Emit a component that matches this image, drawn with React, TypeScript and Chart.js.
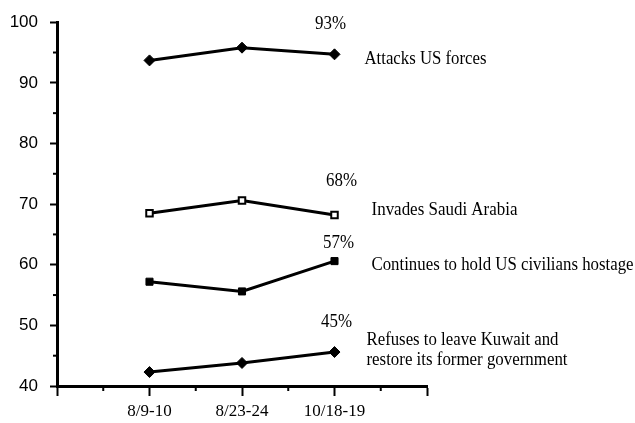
import React, { useEffect, useRef } from 'react';
import { Chart, registerables } from 'chart.js';

Chart.register(...registerables);

// ---- data ----
const categories = ['', '8/9-10', '8/23-24', '10/18-19', ''];
const attacksUSForces = [93.7, 95.8, 94.7];
const invadesSaudiArabia = [68.5, 70.6, 68.2];
const holdsUSHostages = [57.2, 55.6, 60.6];
const refusesLeaveKuwait = [42.3, 43.8, 45.6];
const seriesNames = [
  ['Attacks US forces'],
  ['Invades Saudi Arabia'],
  ['Continues to hold US civilians hostage'],
  ['Refuses to leave Kuwait and', 'restore its former government'],
];
const endLabels = ['93%', '68%', '57%', '45%'];
const yMin = 40;
const yMax = 100;

// ---- layout-only settings (offsets from the last point, in px) ----
const pctOffsets = [
  { dx: -4, dy: -25 },
  { dx: 7, dy: -29 },
  { dx: 4, dy: -13 },
  { dx: 2, dy: -25 },
];
const nameOffsets = [
  { dx: 30, dy: 10 },
  { dx: 37, dy: 0 },
  { dx: 37, dy: 9 },
  { dx: 32, dy: -7 },
];
const nameMaxWidths = [[122], [146], [262], [192, 201]];

const allSeries = [attacksUSForces, invadesSaudiArabia, holdsUSHostages, refusesLeaveKuwait];

const toPoints = (vals: number[]) => vals.map((v, i) => ({ x: i + 1, y: v }));

const annotationPlugin = {
  id: 'annotations',
  afterDatasetsDraw(chart: any) {
    const { ctx } = chart;
    const xS = chart.scales.x;
    const yS = chart.scales.y;
    ctx.save();
    // minor ticks
    ctx.strokeStyle = '#000';
    ctx.lineWidth = 2;
    for (let v = yMin + 5; v < yMax; v += 10) {
      const py = yS.getPixelForValue(v);
      ctx.beginPath();
      ctx.moveTo(chart.chartArea.left - 4, py);
      ctx.lineTo(chart.chartArea.left, py);
      ctx.stroke();
    }
    for (let v = 0.5; v < categories.length - 1; v += 1) {
      const px = xS.getPixelForValue(v);
      ctx.beginPath();
      ctx.moveTo(px, chart.chartArea.bottom);
      ctx.lineTo(px, chart.chartArea.bottom + 5);
      ctx.stroke();
    }
    // labels
    ctx.fillStyle = '#000';
    ctx.font = '18px "Liberation Serif", "Times New Roman", serif';
    ctx.textBaseline = 'alphabetic';
    allSeries.forEach((vals, i) => {
      const lastIdx = vals.length - 1;
      const px = xS.getPixelForValue(lastIdx + 1);
      const py = yS.getPixelForValue(vals[lastIdx]);
      ctx.textAlign = 'center';
      ctx.fillText(endLabels[i], px + pctOffsets[i].dx, py + pctOffsets[i].dy, 31);
      ctx.textAlign = 'left';
      seriesNames[i].forEach((line, j) => {
        ctx.fillText(line, px + nameOffsets[i].dx, py + nameOffsets[i].dy + j * 20, nameMaxWidths[i][j]);
      });
    });
    ctx.restore();
  },
};

export default function App() {
  const ref = useRef<HTMLCanvasElement | null>(null);
  useEffect(() => {
    if (!ref.current) return;
    const base = {
      borderColor: '#000',
      borderWidth: 3,
      pointBorderColor: '#000',
      tension: 0,
    };
    const chart = new Chart(ref.current, {
      type: 'line',
      data: {
        datasets: [
          {
            ...base,
            label: seriesNames[0].join(' '),
            data: toPoints(attacksUSForces),
            pointStyle: 'rectRot',
            pointRadius: 5.5,
            pointBackgroundColor: '#000',
            pointBorderWidth: 1,
          },
          {
            ...base,
            label: seriesNames[1].join(' '),
            data: toPoints(invadesSaudiArabia),
            pointStyle: 'rect',
            pointRadius: 4.6,
            pointBackgroundColor: '#fff',
            pointBorderWidth: 2,
          },
          {
            ...base,
            label: seriesNames[2].join(' '),
            data: toPoints(holdsUSHostages),
            pointStyle: 'rect',
            pointRadius: 5,
            pointBackgroundColor: '#000',
            pointBorderWidth: 1,
          },
          {
            ...base,
            label: seriesNames[3].join(' '),
            data: toPoints(refusesLeaveKuwait),
            pointStyle: 'rectRot',
            pointRadius: 5.5,
            pointBackgroundColor: '#000',
            pointBorderWidth: 1,
          },
        ] as any,
      },
      options: {
        animation: false,
        responsive: false,
        layout: { padding: { left: 0, top: 20, right: 208, bottom: 0 } },
        plugins: { legend: { display: false }, tooltip: { enabled: false } },
        scales: {
          x: {
            type: 'linear',
            min: 0,
            max: categories.length - 1,
            afterFit: (s: any) => {
              s.height = 37;
            },
            border: { color: '#000', width: 3 },
            grid: { drawOnChartArea: false, tickLength: 10, tickWidth: 2, tickColor: '#000' },
            ticks: {
              stepSize: 1,
              autoSkip: false,
              maxRotation: 0,
              padding: 5,
              color: '#000',
              font: { family: '"Liberation Serif", "Times New Roman", serif', size: 17 },
              callback: (v: any) => categories[Math.round(Number(v))] ?? '',
            },
          },
          y: {
            type: 'linear',
            min: yMin,
            max: yMax,
            afterFit: (s: any) => {
              s.width = 57;
            },
            border: { color: '#000', width: 3 },
            grid: { drawOnChartArea: false, tickLength: 7, tickWidth: 2, tickColor: '#000' },
            ticks: {
              stepSize: 10,
              padding: 12,
              color: '#000',
              font: { family: '"Liberation Sans", Arial, sans-serif', size: 17 },
            },
          },
        },
      },
      plugins: [annotationPlugin],
    } as any);
    return () => chart.destroy();
  }, []);
  return (
    <div style={{ position: 'absolute', left: 0, top: 0, width: 635, height: 423, background: '#fff' }}>
      <canvas ref={ref} width={635} height={423} />
    </div>
  );
}
